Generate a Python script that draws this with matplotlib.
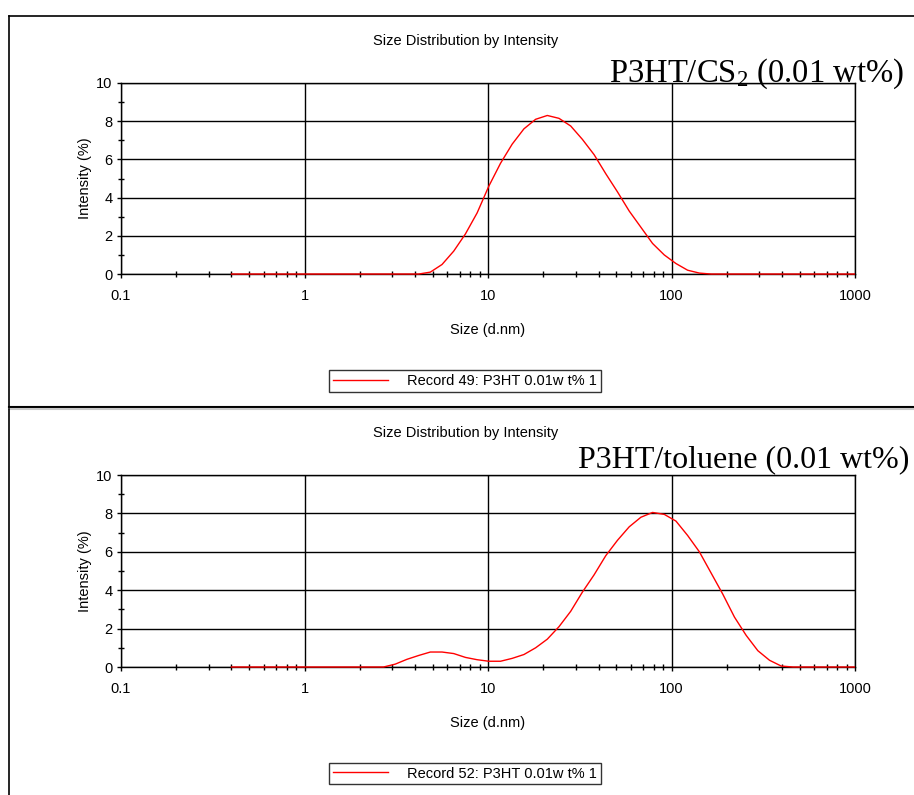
import matplotlib
matplotlib.use("Agg")
import matplotlib.pyplot as plt
from matplotlib.lines import Line2D
from matplotlib.ticker import FixedLocator, NullFormatter
from matplotlib.transforms import Bbox, TransformedBbox

plt.rcParams["font.family"] = "Liberation Sans"
plt.rcParams["mathtext.fontset"] = "custom"
plt.rcParams["mathtext.rm"] = "Liberation Serif"
plt.rcParams["mathtext.it"] = "Liberation Serif:italic"

# Malvern size bins (d.nm)
size_nm = [0.4000, 0.4632, 0.5365, 0.6213, 0.7195, 0.8332, 0.9649, 1.117, 1.294, 1.499,
           1.736, 2.010, 2.328, 2.696, 3.122, 3.615, 4.187, 4.849, 5.615, 6.503,
           7.531, 8.721, 10.10, 11.70, 13.54, 15.69, 18.17, 21.04, 24.36, 28.21,
           32.67, 37.84, 43.82, 50.75, 58.77, 68.06, 78.82, 91.28, 105.7, 122.4,
           141.8, 164.2, 190.1, 220.2, 255.0, 295.3, 342.0, 396.1, 458.7, 531.2,
           615.1, 712.4, 825.0, 955.4, 1106.0]

intensity_cs2 = [0, 0, 0, 0, 0, 0, 0, 0, 0, 0,
                 0, 0, 0, 0, 0, 0, 0, 0.1, 0.5, 1.2,
                 2.1, 3.2, 4.6, 5.8, 6.8, 7.6, 8.1, 8.3, 8.15, 7.75,
                 7.05, 6.25, 5.25, 4.3, 3.3, 2.45, 1.6, 1.0, 0.55, 0.2,
                 0.05, 0, 0, 0, 0, 0, 0, 0, 0, 0,
                 0, 0, 0, 0, 0]

intensity_toluene = [0, 0, 0, 0, 0, 0, 0, 0, 0, 0,
                     0, 0, 0, 0, 0.15, 0.4, 0.6, 0.78, 0.78, 0.7,
                     0.5, 0.38, 0.3, 0.3, 0.45, 0.65, 1.0, 1.45, 2.1, 2.9,
                     3.9, 4.8, 5.8, 6.6, 7.3, 7.8, 8.05, 7.95, 7.6, 6.85,
                     6.0, 4.9, 3.8, 2.6, 1.65, 0.85, 0.35, 0.05, 0, 0,
                     0, 0, 0, 0, 0]

x_ticks = [0.1, 1, 10, 100, 1000]
x_tick_labels = ["0.1", "1", "10", "100", "1000"]
y_ticks = [0, 2, 4, 6, 8, 10]

panels = [
    dict(y=intensity_cs2, label="Record 49: P3HT 0.01w t% 1",
         note=r"P3HT/CS$_2$ (0.01 wt%)", note_fs=23.5,
         ax_rect=[0.1324, 0.6553, 0.8031, 0.2403],
         note_xy=(0.6663, 0.8969), leg_y=0.5208),
    dict(y=intensity_toluene, label="Record 52: P3HT 0.01w t% 1",
         note="P3HT/toluene (0.01 wt%)", note_fs=23,
         ax_rect=[0.1324, 0.1610, 0.8031, 0.2415],
         note_xy=(0.6324, 0.4126), leg_y=0.0270),
]

fs = 10.5

fig = plt.figure(figsize=(9.14, 7.95), dpi=100)

for p in panels:
    ax = fig.add_axes(p["ax_rect"])
    line, = ax.plot(size_nm, p["y"], color="red", lw=1.0, zorder=3, label=p["label"])
    line.set_clip_box(TransformedBbox(Bbox([[0, -0.05], [1, 1.05]]), ax.transAxes))
    ax.set_xscale("log")
    ax.set_xlim(0.1, 1000)
    ax.set_ylim(0, 10)
    ax.set_xticks(x_ticks, x_tick_labels)
    ax.xaxis.set_minor_locator(FixedLocator(
        [m * 10.0 ** e for e in range(-1, 3) for m in range(2, 10)]))
    ax.xaxis.set_minor_formatter(NullFormatter())
    ax.set_yticks(y_ticks)
    ax.yaxis.set_minor_locator(FixedLocator([1, 3, 5, 7, 9]))
    ax.grid(True, which="major", color="black", lw=1.0)
    ax.set_axisbelow(True)
    for s in ax.spines.values():
        s.set_color("black")
        s.set_linewidth(1.0)
    ax.tick_params(axis="both", which="major", direction="out", length=3,
                   width=1.0, labelsize=fs, colors="black")
    ax.tick_params(axis="x", which="major", pad=8)
    ax.tick_params(axis="y", which="major", pad=3)
    ax.tick_params(axis="both", which="minor", direction="inout", length=4.5, width=1.0)
    ax.set_ylabel("Intensity (%)", fontsize=fs)
    ax.yaxis.set_label_coords(-0.040, 0.5)
    ax.set_xlabel("Size (d.nm)", fontsize=fs)
    ax.xaxis.set_label_coords(0.5, -0.256)
    ax.text(0.47, 1.22, "Size Distribution by Intensity", transform=ax.transAxes,
            ha="center", va="center", fontsize=fs)
    fig.text(p["note_xy"][0], p["note_xy"][1], p["note"], fontsize=p["note_fs"],
             family="Liberation Serif", ha="left", va="baseline")
    leg = fig.legend(handles=[line], loc="center", bbox_to_anchor=(0.5088, p["leg_y"]),
                     fontsize=fs, frameon=True, fancybox=False, handlelength=3.8,
                     handletextpad=1.3, borderpad=0.25, borderaxespad=0)
    leg.get_frame().set_edgecolor("black")
    leg.get_frame().set_linewidth(1.0)

# panel frames
W, H = 914.0, 795.0
def px_line(x0, y0, x1, y1, color="black", lw=1.2):
    fig.add_artist(Line2D([x0 / W, x1 / W], [1 - y0 / H, 1 - y1 / H],
                          color=color, lw=lw, transform=fig.transFigure))

px_line(8.5, 16, 914, 16)
px_line(8.5, 16, 8.5, 406)
px_line(8.5, 406.5, 914, 406.5, lw=1.5)
px_line(8.5, 409, 914, 409, color="#c8c8c8", lw=1.5)
px_line(8.5, 409, 8.5, 795)

fig.savefig("out.png", dpi=100)
